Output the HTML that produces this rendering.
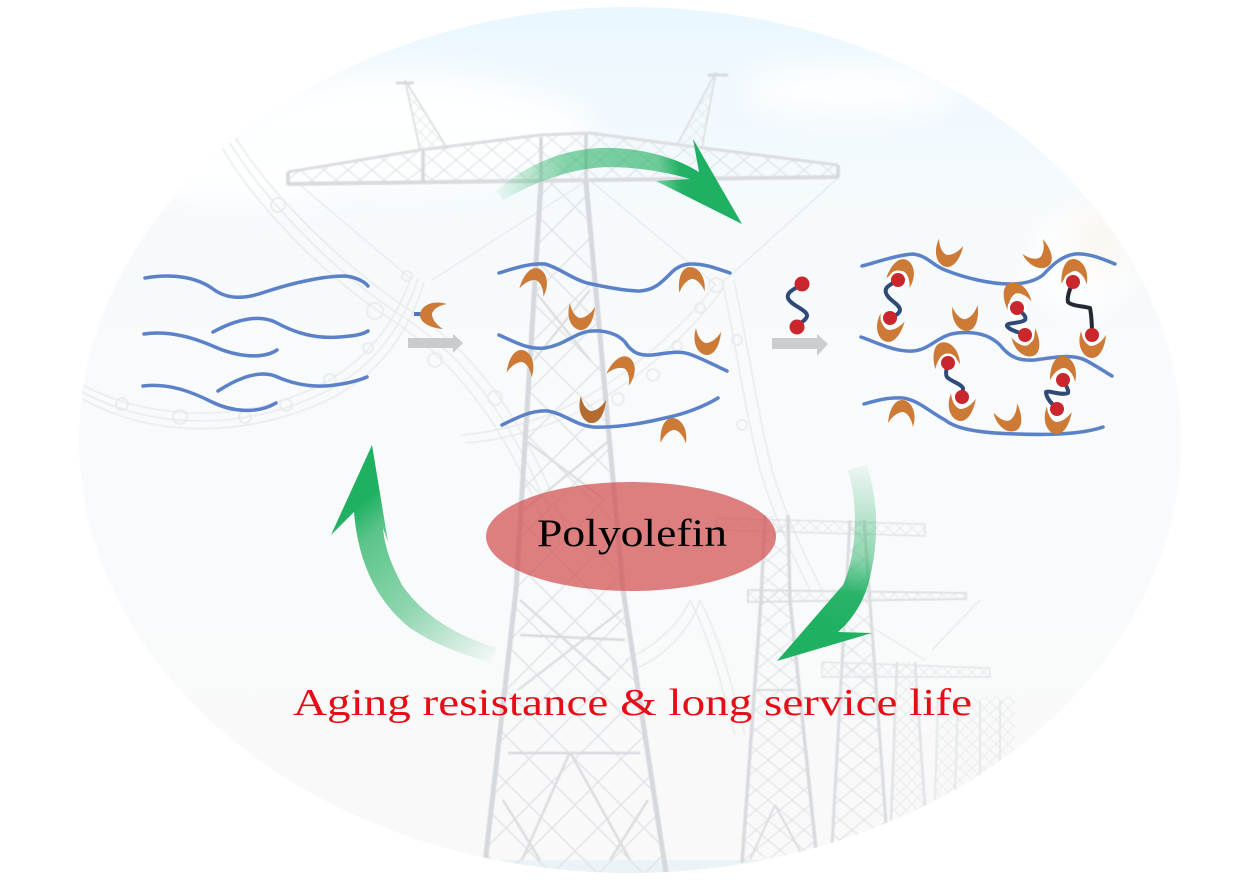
<!DOCTYPE html>
<html lang="en"><head><meta charset="utf-8"><title>Polyolefin</title>
<style>html,body{margin:0;padding:0;background:#fff;width:1260px;height:882px;overflow:hidden}svg{display:block}</style></head>
<body>
<svg width="1260" height="882" viewBox="0 0 1260 882" xmlns="http://www.w3.org/2000/svg">
<defs>
<linearGradient id="sky" x1="0" y1="0" x2="0" y2="1">
<stop offset="0" stop-color="#e8f7fe"/><stop offset=".1" stop-color="#f0f9fe"/><stop offset=".25" stop-color="#f6fafd"/><stop offset=".5" stop-color="#f9fafc"/><stop offset="1" stop-color="#f9f9f9"/></linearGradient>
<clipPath id="oval"><ellipse cx="630" cy="440" rx="551" ry="433"/></clipPath>
<filter id="b20" x="-30%" y="-30%" width="160%" height="160%"><feGaussianBlur stdDeviation="16"/></filter>
<filter id="b1"><feGaussianBlur stdDeviation=".5"/></filter>
<pattern id="lat" width="24" height="20" patternUnits="userSpaceOnUse"><path d="M0 0L24 20M24 0L0 20" stroke="#dee0e4" stroke-width="1" fill="none"/></pattern>
<pattern id="lat2" width="46" height="46" patternUnits="userSpaceOnUse"><path d="M0 0L46 46M46 0L0 46" stroke="#dfe1e5" stroke-width="1.300" fill="none"/></pattern>
<pattern id="lat3" width="12" height="12" patternUnits="userSpaceOnUse"><path d="M0 0L12 12M12 0L0 12" stroke="#e4e6e8" stroke-width=".8" fill="none"/></pattern>
<linearGradient id="gTop" gradientUnits="userSpaceOnUse" x1="496" y1="190" x2="700" y2="170"><stop offset="0" stop-color="#25b263" stop-opacity=".05"/><stop offset=".35" stop-color="#25b263" stop-opacity=".55"/><stop offset=".8" stop-color="#25b263" stop-opacity=".65"/><stop offset=".9" stop-color="#1fb062" stop-opacity=".98"/><stop offset="1" stop-color="#1fb062"/></linearGradient>
<linearGradient id="gLeft" gradientUnits="userSpaceOnUse" x1="495" y1="655" x2="365" y2="500"><stop offset="0" stop-color="#25b263" stop-opacity=".03"/><stop offset=".45" stop-color="#25b263" stop-opacity=".5"/><stop offset=".85" stop-color="#25b263" stop-opacity=".75"/><stop offset="1" stop-color="#1fb062"/></linearGradient>
<linearGradient id="gRight" gradientUnits="userSpaceOnUse" x1="860" y1="465" x2="840" y2="630"><stop offset="0" stop-color="#25b263" stop-opacity=".05"/><stop offset=".55" stop-color="#25b263" stop-opacity=".5"/><stop offset=".78" stop-color="#1fb062" stop-opacity=".95"/><stop offset="1" stop-color="#1fb062"/></linearGradient>
<path id="c" d="M-11,-14C-16,2-8,13 0,13C8,13 13,2 14,-10C9,-2 3,1-1,1C-6,0-10,-7-11,-14Z" fill="#cc7a35"/>
</defs>

<g clip-path="url(#oval)">
<rect width="1260" height="882" fill="url(#sky)"/>
<!-- clouds -->
<g filter="url(#b20)" fill="#fff" opacity=".9">
<ellipse cx="400" cy="130" rx="170" ry="60"/><ellipse cx="530" cy="130" rx="60" ry="35"/><ellipse cx="240" cy="170" rx="120" ry="35"/>
<ellipse cx="850" cy="90" rx="110" ry="26"/><ellipse cx="1080" cy="260" rx="50" ry="50"/>
</g>
<ellipse cx="1100" cy="240" rx="35" ry="35" fill="#fbf8f3" filter="url(#b20)"/>
<rect x="440" y="860" width="330" height="20" fill="#eaf3f6" filter="url(#b1)"/>

<g filter="url(#b1)">
<!-- insulator chains -->
<g fill="none" stroke="#e6e8ea" stroke-width="1.300">
<path d="M225 135C260 195 330 270 405 318C470 360 520 430 560 540"/>
<path d="M232 132C268 192 338 262 412 312C478 354 528 425 568 535"/>
<path d="M218 140C250 200 322 276 398 324C462 368 512 436 552 545"/>
<path d="M82 385C150 420 240 425 320 385C365 362 395 325 412 275"/>
<path d="M82 392C150 428 240 433 325 392C372 368 402 330 418 278"/>
<path d="M82 399C150 436 240 441 330 399C378 375 408 335 424 282"/>
<path d="M715 285C680 330 620 385 555 412C530 422 500 432 460 435"/>
<path d="M722 290C688 336 628 392 560 420C535 430 505 440 465 443"/>
<path d="M722 280C735 340 745 410 760 470C775 520 795 560 810 590"/>
<path d="M734 280C747 340 757 410 772 470C787 520 807 560 822 590"/>
<path d="M690 600C680 625 650 650 625 660"/><path d="M700 600C690 632 660 660 632 670"/>
<path d="M690 600C715 650 725 700 735 735"/><path d="M700 600C725 650 735 700 745 735"/>
</g>
<g fill="none" stroke="#e6e8ea" stroke-width="1.500">
<circle cx="278" cy="205" r="7"/><circle cx="375" cy="311" r="8"/><circle cx="435" cy="360" r="7"/><circle cx="495" cy="398" r="7"/>
<circle cx="122" cy="404" r="6"/><circle cx="180" cy="417" r="7"/><circle cx="245" cy="417" r="6"/><circle cx="286" cy="405" r="6"/><circle cx="330" cy="380" r="6"/><circle cx="368" cy="348" r="5"/><circle cx="407" cy="276" r="5"/>
<circle cx="700" cy="308" r="5"/><circle cx="677" cy="346" r="5"/><circle cx="653" cy="375" r="6"/><circle cx="618" cy="399" r="6"/><circle cx="737" cy="340" r="5"/><circle cx="742" cy="425" r="5"/><circle cx="716" cy="285" r="7"/>
</g>
<!-- stays -->
<g fill="none" stroke="#e2e5e8" stroke-width="1">
<path d="M300 185L410 278M588 180L432 280M592 182L716 285M838 178L722 283"/>
<path d="M868 625L925 660M980 600L932 650"/>
</g>

<!-- main tower -->
<g>
<polygon points="288,172 420,150 540,135 590,133 680,145 838,165 838,178 590,180 540,182 288,185" fill="url(#lat)"/>
<path d="M288 184L838 177" stroke="#d9dbdf" stroke-width="4"/>
<path d="M288 172L420 150L540 135L590 133L680 145L838 165" stroke="#dcdee2" stroke-width="3" fill="none"/>
<path d="M288 172V185M838 165V178M423 150V182M541 137V182M586 134V182" stroke="#d6d8dc" stroke-width="3.500"/>
<polygon points="405,80 420,150 447,148" fill="url(#lat3)" stroke="#dde0e3" stroke-width="1.800"/>
<path d="M396 83H414" stroke="#d8dbde" stroke-width="3"/>
<polygon points="716,72 677,145 702,147" fill="url(#lat3)" stroke="#dde0e3" stroke-width="1.800"/>
<path d="M708 75H728" stroke="#d8dbde" stroke-width="3"/>
<polygon points="541,182 586,182 623,590 666,873 484,873 516,590" fill="url(#lat2)"/>
<path d="M541 182L516 590L484 873" stroke="#d5d8dd" stroke-width="5" fill="none"/>
<path d="M586 182L623 590L666 873" stroke="#d5d8dd" stroke-width="5" fill="none"/>
<path d="M508 753H640M520 635L625 640" stroke="#d8dade" stroke-width="2.500"/>
<path d="M570 752L522 860M570 752L630 860M503 800L540 860M648 800L610 860" stroke="#dbdde0" stroke-width="2.500"/>
<path d="M534 290L590 360M590 290L534 360M525 440L605 500M610 440L524 510M520 600L610 680M622 610L518 690" stroke="#dadde0" stroke-width="2.200"/>
</g>
<!-- tower 2 -->
<g>
<polygon points="716,518 925,524 925,536 716,530" fill="url(#lat3)" stroke="#e0e2e5" stroke-width="1.400"/>
<polygon points="748,590 966,593 966,599 748,602" fill="url(#lat3)" stroke="#dcdee2" stroke-width="1.800"/>
<polygon points="765,515 790,515 790,600 815,850 742,863 761,600" fill="url(#lat)"/>
<path d="M765 515L761 600L742 863" stroke="#d8dade" stroke-width="3.500" fill="none"/>
<path d="M788 515L790 600L816 850" stroke="#d8dade" stroke-width="3.500" fill="none"/>
<path d="M755 690L796 690M775 805L750 860M775 805L805 860" stroke="#dbdde0" stroke-width="2"/>
</g>
<!-- tower 3 -->
<g>
<polygon points="848,520 866,520 885,825 832,845" fill="url(#lat)"/>
<path d="M850 520L832 845M864 520L886 823" stroke="#dadde0" stroke-width="3" fill="none"/>
<polygon points="822,662 990,668 990,677 822,677" fill="url(#lat3)" stroke="#e2e4e7" stroke-width="1.400"/>
</g>
<!-- tower 4,5 -->
<g>
<polygon points="897,662 915,662 925,807 891,820" fill="url(#lat3)"/>
<path d="M897 662L891 820M915 662L925 807" stroke="#e0e2e5" stroke-width="2.500" fill="none"/>
<polygon points="935,700 1015,695 1015,780 935,800" fill="url(#lat3)" opacity=".8"/>
<path d="M938 700L935 800M958 700L955 790M980 700L980 785M1000 700L1000 775" stroke="#e5e7e9" stroke-width="2" fill="none"/>
</g>
</g>
</g>

<!-- green arrows -->
<path d="M496,191C520,170 555,150 600,148C640,147 675,157 699,172L693,139L742,224L656,181L690,179C660,170 620,165 594,168C560,172 530,185 503,200Z" fill="url(#gTop)"/>
<path d="M372,445L331,535L354,512C358,560 375,600 410,628C435,645 465,655 491,663L497,648C460,637 425,618 402,585C392,565 385,550 383,528L388,542Z" fill="url(#gLeft)"/>
<path d="M848,470L867,465C878,500 880,540 868,585C862,605 850,622 838,632L872,633L777,661L843,585C855,560 860,510 848,470Z" fill="url(#gRight)"/>

<!-- red ellipse -->
<ellipse cx="631" cy="536.500" rx="145" ry="54.500" fill="#d24f4f" opacity=".72"/>
<text x="537" y="546" font-family="'Liberation Serif',serif" font-size="39" fill="#000" textLength="190" lengthAdjust="spacingAndGlyphs">Polyolefin</text>
<text x="293" y="715" font-family="'Liberation Serif',serif" font-size="38" fill="#e60d17" textLength="679" lengthAdjust="spacingAndGlyphs">Aging resistance &amp; long service life</text>

<!-- gray arrows -->
<path d="M408 338H453V334L463 343L453 353V348H408Z" fill="#c9cccd"/>
<path d="M772 338H817V334L828 344L817 356V349H772Z" fill="#cbcecf"/>

<!-- strands -->
<g fill="none" stroke="#5b82c8" stroke-width="3.500" stroke-linecap="round" stroke-linejoin="round">
<path d="M145 278C175 273 198 278 213 289C228 300 245 299 265 292C295 282 325 276 345 276C355 277 364 281 368 286"/>
<path d="M213 332C235 320 258 314 275 322C295 333 315 339 340 337C352 336 362 335 368 331"/>
<path d="M144 334C170 330 195 338 215 347C235 356 262 360 277 350"/>
<path d="M218 391C238 378 258 370 275 376C295 385 315 388 335 385C350 383 360 380 367 377"/>
<path d="M143 386C170 383 192 392 212 402C232 412 258 414 276 403"/>
<path d="M499 273C515 268 530 263 545 264C560 268 570 278 587 283C605 287 625 291 640 291C655 290 662 282 672 272C682 262 695 263 708 266C716 268 724 271 730 273"/>
<path d="M499 335C515 342 528 350 545 348C565 345 575 332 592 331C605 330 618 334 625 342C632 353 640 356 652 355C668 353 680 350 692 355C705 360 718 367 727 371"/>
<path d="M502 425C518 417 532 410 548 411C565 414 575 425 593 427C615 428 640 424 665 418C685 414 705 406 718 398"/>
<path d="M862 266C880 261 898 255 913 254C928 256 932 265 945 270C965 278 990 284 1010 284C1025 284 1035 281 1043 275C1053 264 1062 256 1075 254C1090 253 1105 260 1115 264"/>
<path d="M861 337C878 343 895 352 913 351C930 350 938 335 957 333C975 331 990 335 1000 345C1010 358 1020 361 1035 360C1055 357 1072 354 1085 360C1095 365 1105 372 1112 376"/>
<path d="M864 404C878 400 890 397 903 398C918 400 930 412 945 420C955 428 975 433 1017 434C1045 435 1080 435 1103 427"/>
</g>
<path d="M414 314H423" stroke="#4f78c4" stroke-width="4"/>

<use href="#c" transform="translate(433 315) rotate(90)"/>
<use href="#c" transform="translate(535 281) rotate(190)" />
<use href="#c" transform="translate(581 317)"/>
<use href="#c" transform="translate(691 280) rotate(168)"/>
<use href="#c" transform="translate(521 363) rotate(182)"/>
<use href="#c" transform="translate(623 369) rotate(200)"/>
<use href="#c" transform="translate(707 342)"/>
<use href="#c" transform="translate(592 410)" style="filter:brightness(.88)"/>
<use href="#c" transform="translate(673 431) rotate(172)"/>

<!-- linker above arrow -->
<path d="M802 284C795 289 786 292 788 298C790 305 808 310 807 316C806 321 800 322 797 327" fill="none" stroke="#2f4a76" stroke-width="4" stroke-linecap="round"/>
<circle cx="802" cy="284" r="7.500" fill="#c9262d"/><circle cx="797" cy="327" r="7.500" fill="#c9262d"/>

<!-- right crescents -->
<g>
<use href="#c" transform="translate(902 272) rotate(193)"/>
<use href="#c" transform="translate(889 329) rotate(10)"/>
<use href="#c" transform="translate(948 254) rotate(8)"/>
<use href="#c" transform="translate(1040 256) rotate(-45)"/>
<use href="#c" transform="translate(1074 272) rotate(172)"/>
<use href="#c" transform="translate(1015 295) rotate(150)"/>
<use href="#c" transform="translate(1028 344) rotate(-30)"/>
<use href="#c" transform="translate(1092 345)"/>
<use href="#c" transform="translate(966 318) rotate(-12)"/>
<use href="#c" transform="translate(945 355) rotate(160)"/>
<use href="#c" transform="translate(961 408) rotate(4)"/>
<use href="#c" transform="translate(1063 369) rotate(175)"/>
<use href="#c" transform="translate(1057 421) rotate(4)"/>
<use href="#c" transform="translate(902 413) rotate(180)"/>
<use href="#c" transform="translate(1010 419) rotate(-30)"/>
</g>

<!-- white halos -->
<g fill="#fff">
<circle cx="898" cy="280" r="9.500"/><circle cx="890" cy="318" r="9.500"/><circle cx="1017" cy="308" r="9.500"/><circle cx="1025" cy="335" r="9.500"/><circle cx="1073" cy="282" r="9.500"/><circle cx="1092" cy="335" r="9.500"/><circle cx="948" cy="363" r="9.500"/><circle cx="962" cy="397" r="9.500"/><circle cx="1063" cy="380" r="9.500"/><circle cx="1057" cy="409" r="9.500"/>
</g>
<!-- linkers -->
<g fill="none" stroke-linecap="round" stroke-linejoin="round" stroke-width="4">
<path d="M898 280C890 285 884 287 886 293C888 300 900 304 900 310C899 315 893 316 890 318" stroke="#2f4a76"/>
<path d="M1017 308C1022 313 1027 316 1025 320C1020 324 1006 322 1007 326C1010 331 1020 332 1025 335" stroke="#2f4a76"/>
<path d="M1073 282C1069 290 1067 298 1068 302C1072 306 1082 306 1090 308C1092 318 1092 328 1092 335" stroke="#222b35"/>
<path d="M948 363C946 370 945 376 948 378C953 382 961 384 963 388C963 392 962 395 962 397" stroke="#2f4a76"/>
<path d="M1063 380C1066 386 1069 390 1068 393C1062 396 1048 390 1046 392C1046 398 1052 404 1057 409" stroke="#2f4a76"/>
</g>
<g fill="#c9262d">
<circle cx="898" cy="280" r="7"/><circle cx="890" cy="318" r="7"/><circle cx="1017" cy="308" r="7"/><circle cx="1025" cy="335" r="7"/><circle cx="1073" cy="282" r="7"/><circle cx="1092" cy="335" r="7"/><circle cx="948" cy="363" r="7"/><circle cx="962" cy="397" r="7"/><circle cx="1063" cy="380" r="7"/><circle cx="1057" cy="409" r="7"/>
</g>
</svg>
</body></html>
